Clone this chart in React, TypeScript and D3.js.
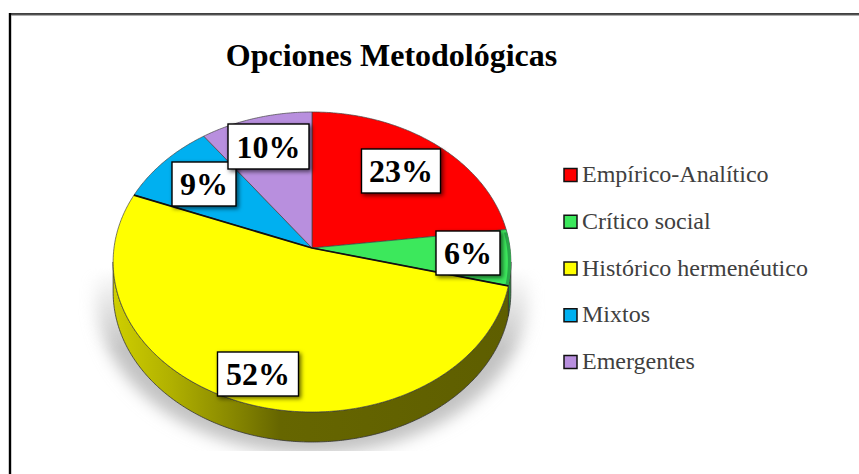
import React from "react";
import * as d3 from "d3";

const categories = ["Empírico-Analítico", "Crítico social", "Histórico hermenéutico", "Mixtos", "Emergentes"];
const values = [23, 6, 52, 9, 10];
const colors = ["#ff0000", "#3ce85c", "#ffff00", "#00b0f0", "#b88fde"];
const title = "Opciones Metodológicas";

// layout
const W = 859, H = 474;
const apex = { x: 312, y: 248 };
const persp = -0.0933, K = 198, A = 148.7, depth = 30;
const labelCenters = [[401, 171], [468, 253], [258, 374], [204, 184], [268.5, 146.5]];
const labelSizes = [[79, 44], [64, 44], [81, 44], [64, 44], [81, 45]];
const serif = "'Liberation Serif', 'Times New Roman', serif";

const project = (a: number, r = 1): [number, number] => {
  const u = Math.sin(a) * r, v = -Math.cos(a) * r;
  const w = 1 + persp * v;
  return [apex.x + (K * u) / w, apex.y + (A * v) / w];
};
const line = d3.line();
const arcPts = (a0: number, a1: number) => {
  const n = Math.max(2, Math.ceil(Math.abs(a1 - a0) / 0.01));
  return d3.range(n + 1).map((i) => project(a0 + ((a1 - a0) * i) / n));
};
const slices = d3.pie<number>().sort(null)(values);
const sideStart = Math.acos(persp);
const sideEnd = 2 * Math.PI - sideStart;

const slicePath = (s: d3.PieArcDatum<number>) =>
  line([[apex.x, apex.y], ...arcPts(s.startAngle, s.endAngle)]) + "Z";
const sidePath = (a0: number, a1: number) => {
  const top = arcPts(a0, a1);
  const bottom = [...top].reverse().map(([x, y]) => [x, y + depth] as [number, number]);
  return line([...top, ...bottom]) + "Z";
};
const legendY = d3.scalePoint<string>().domain(categories).range([175, 362]);
const order = [0, 1, 3, 4, 2];
const labelOrder = [0, 1, 2, 3, 4];

export default function App() {
  return (
    <svg width={W} height={H} viewBox={`0 0 ${W} ${H}`} style={{ position: "fixed", left: 0, top: 0, background: "#fff" }}>
      <defs>
        <linearGradient id="side" gradientUnits="userSpaceOnUse" x1="112" x2="511" y1="0" y2="0">
          <stop offset="0" stopColor="#cfcf00" />
          <stop offset="0.15" stopColor="#b0b000" />
          <stop offset="0.33" stopColor="#808000" />
          <stop offset="0.42" stopColor="#666600" />
          <stop offset="1" stopColor="#5e5e00" />
        </linearGradient>
        <linearGradient id="fade" gradientUnits="userSpaceOnUse" x1="0" x2="0" y1="268" y2="350">
          <stop offset="0" stopColor="#fff" stopOpacity="0" />
          <stop offset="1" stopColor="#fff" stopOpacity="1" />
        </linearGradient>
        <mask id="shadowMask" maskUnits="userSpaceOnUse" x="0" y="0" width={W} height={H}>
          <rect x="0" y="0" width={W} height="451" fill="url(#fade)" />
        </mask>
        <filter id="blur" x="-20%" y="-20%" width="140%" height="140%">
          <feGaussianBlur stdDeviation="8" />
        </filter>
        <filter id="boxShadow" x="-20%" y="-20%" width="150%" height="150%">
          <feDropShadow dx="2" dy="2" stdDeviation="2" floodColor="#000" floodOpacity="0.6" />
        </filter>
      </defs>

      {/* frame */}
      <line x1="10" x2="10" y1="13" y2={H} stroke="#000" strokeWidth="2.4" />
      <line x1="9" x2={W} y1="14" y2="14" stroke="#000" strokeWidth="1.6" />
      <line x1="11" x2={W} y1="15.3" y2="15.3" stroke="#999" strokeWidth="1" />

      <text x="391.5" y="66" textAnchor="middle" fontFamily={serif} fontWeight="bold" fontSize="32" fill="#000">{title}</text>

      {/* floor shadow */}
      <g mask="url(#shadowMask)">
        <ellipse cx="312" cy="296" rx="216" ry="158" fill="#c2c2c2" filter="url(#blur)" />
      </g>

      {/* walls */}
      {slices.map((s, i) => {
        const a0 = Math.max(s.startAngle, sideStart), a1 = Math.min(s.endAngle, sideEnd);
        if (a1 <= a0) return null;
        const fill = i === 2 ? "url(#side)" : d3.color(colors[i])!.darker(1.4).formatHex();
        return <path key={i} d={sidePath(a0, a1)} fill={fill} stroke="#333" strokeWidth="0.8" />;
      })}

      {/* top */}
      {order.map((i) => (
        <path key={i} d={slicePath(slices[i])} fill={colors[i]} stroke="#444" strokeWidth="0.7" strokeLinejoin="round" />
      ))}
      <path d={line(arcPts(slices[1].startAngle + 0.02, slices[1].endAngle - 0.01))!} fill="none" stroke="#2aa84a" strokeWidth="3" transform="translate(-1.5,0)" />
      <path d={line([project(slices[2].endAngle), [apex.x, apex.y], project(slices[2].startAngle)])!} fill="none" stroke="#111" strokeWidth="1.7" strokeLinejoin="round" />

      {/* data labels */}
      {labelOrder.map((i) => {
        const [cx, cy] = labelCenters[i], [w, h] = labelSizes[i];
        return (
          <g key={i}>
            <rect x={cx - w / 2} y={cy - h / 2} width={w} height={h} fill="#fff" stroke="#000" strokeWidth="1.4" filter="url(#boxShadow)" />
            <text x={cx} y={cy + 11} textAnchor="middle" fontFamily={serif} fontWeight="bold" fontSize="32" fill="#000">{values[i]}%</text>
          </g>
        );
      })}

      {/* legend */}
      {categories.map((c, i) => {
        const y = legendY(c)!;
        return (
          <g key={c}>
            <rect x="564" y={y - 6.5} width="13" height="13" fill={colors[i]} stroke="#111" strokeWidth="1.5" />
            <text x="582" y={y + 7} fontFamily={serif} fontSize="24" fill="#404040">{c}</text>
          </g>
        );
      })}
    </svg>
  );
}
